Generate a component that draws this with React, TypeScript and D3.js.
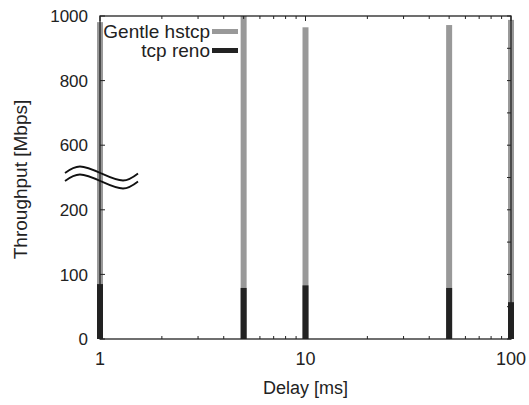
import React, { useEffect, useRef } from 'react';
import * as d3 from 'd3';

// delay values (ms) on log x axis
const delays = [1, 5, 10, 50, 100];
// throughput in Mbps
const gentleHstcp = [981, 1000, 965, 972, 988];
const tcpReno = [85, 79, 83, 79, 57];

const yTickValues = [0, 100, 200, 600, 800, 1000];
const yMirrorTicks = [0, 50, 100, 150, 200, 400, 600, 700, 800, 900, 1000];
const xTickLabels = [1, 10, 100];
const seriesNames = ['Gentle hstcp', 'tcp reno'];

const W = 529;
const H = 405;

const App = () => {
    const ref = useRef<SVGSVGElement>(null);

    useEffect(() => {
        document.body.style.margin = '0';
        const left = 100, right = 511, top = 16, bottom = 339;
        const gray = '#999999';
        const black = '#222222';
        const font = 'Liberation Sans, Arial, Helvetica, sans-serif';

        const x = d3.scaleLog().domain([1, 100]).range([left, right]);
        // broken y axis: 0-200 and 600-1000 share the same tick spacing
        const y = d3.scaleLinear()
            .domain([0, 200, 600, 1000])
            .range([bottom, bottom - 2 * (bottom - top) / 5, bottom - 3 * (bottom - top) / 5, top]);

        const svg = d3.select(ref.current);
        svg.selectAll('*').remove();

        const bw = 6;
        // gray bars (Gentle hstcp)
        svg.append('g')
            .selectAll('rect')
            .data(delays)
            .join('rect')
            .attr('x', d => x(d) - bw / 2)
            .attr('width', bw)
            .attr('y', (d, i) => y(gentleHstcp[i]))
            .attr('height', (d, i) => bottom - y(gentleHstcp[i]))
            .attr('fill', gray);

        // black bars (tcp reno)
        svg.append('g')
            .selectAll('rect')
            .data(delays)
            .join('rect')
            .attr('x', d => x(d) - bw / 2)
            .attr('width', bw)
            .attr('y', (d, i) => y(tcpReno[i]))
            .attr('height', (d, i) => bottom - y(tcpReno[i]))
            .attr('fill', black);

        // frame
        svg.append('rect')
            .attr('x', left).attr('y', top)
            .attr('width', right - left).attr('height', bottom - top)
            .attr('fill', 'none').attr('stroke', '#222').attr('stroke-width', 1.3);

        // x ticks (major + minor), bottom and top
        const allX: number[] = [];
        for (let dec = 1; dec < 100; dec *= 10) {
            for (let k = 1; k < 10; k++) allX.push(dec * k);
        }
        allX.push(100);
        const tg = svg.append('g').attr('stroke', '#222').attr('stroke-width', 1);
        allX.forEach(v => {
            const major = xTickLabels.includes(v);
            const len = major ? 5 : 3;
            tg.append('line').attr('x1', x(v)).attr('x2', x(v)).attr('y1', bottom).attr('y2', bottom - len);
            tg.append('line').attr('x1', x(v)).attr('x2', x(v)).attr('y1', top).attr('y2', top + len);
        });
        yTickValues.forEach(v => {
            tg.append('line').attr('x1', left).attr('x2', left + 5).attr('y1', y(v)).attr('y2', y(v));
        });
        yMirrorTicks.forEach(v => {
            tg.append('line').attr('x1', right).attr('x2', right - 4).attr('y1', y(v)).attr('y2', y(v));
        });

        // tick labels
        svg.append('g')
            .attr('font-family', font).attr('font-size', 17).attr('fill', '#222')
            .attr('text-anchor', 'end')
            .selectAll('text')
            .data(yTickValues)
            .join('text')
            .attr('x', left - 12)
            .attr('y', d => y(d))
            .attr('dy', '0.36em')
            .text(d => d);

        svg.append('g')
            .attr('font-family', font).attr('font-size', 18).attr('fill', '#222')
            .attr('text-anchor', 'middle')
            .selectAll('text')
            .data(xTickLabels)
            .join('text')
            .attr('x', d => x(d))
            .attr('y', 365)
            .text(d => d);

        // axis labels
        svg.append('text')
            .attr('x', (left + right) / 2).attr('y', 394)
            .attr('text-anchor', 'middle')
            .attr('font-family', font).attr('font-size', 18).attr('fill', '#222')
            .text('Delay [ms]');
        svg.append('text')
            .attr('transform', `translate(27,${(top + bottom) / 2 + 2}) rotate(-90)`)
            .attr('text-anchor', 'middle')
            .attr('font-family', font).attr('font-size', 19).attr('fill', '#222')
            .text('Throughput [Mbps]');

        // axis break mark
        const wave = d3.line<[number, number]>().curve(d3.curveNatural);
        const pts: [number, number][] = [[65, 173], [80, 166.5], [101.5, 173.5], [123, 180.5], [138, 173.5]];
        [0, 8].forEach(off => {
            svg.append('path')
                .attr('d', wave(pts.map(p => [p[0], p[1] + off] as [number, number])))
                .attr('fill', 'none').attr('stroke', '#111').attr('stroke-width', 1.8);
        });

        // legend
        const lg = svg.append('g').attr('font-family', font).attr('font-size', 19).attr('fill', '#222');
        seriesNames.forEach((name, i) => {
            const yy = 31.5 + i * 19;
            lg.append('text').attr('x', 210).attr('y', yy + 6).attr('text-anchor', 'end').text(name);
            lg.append('rect').attr('x', 212).attr('y', yy - 2.5).attr('width', 26).attr('height', 5)
                .attr('fill', i === 0 ? gray : black);
        });
    }, []);

    return <svg ref={ref} width={W} height={H} style={{ display: 'block', background: '#fff' }} />;
};

export default App;
